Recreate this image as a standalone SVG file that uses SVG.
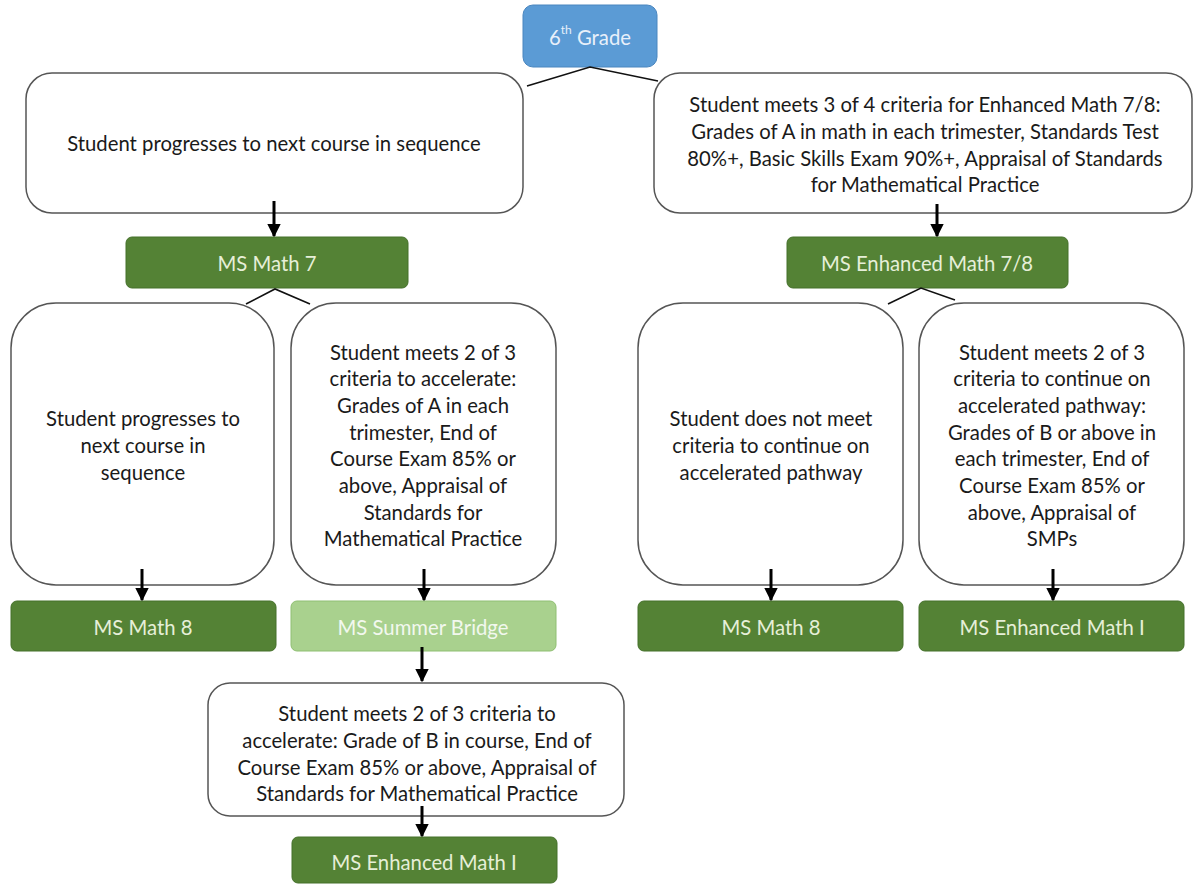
<svg xmlns="http://www.w3.org/2000/svg" width="1194" height="884" viewBox="0 0 1194 884">
<style>
text{font-family:Lato,"Liberation Sans",sans-serif;font-size:20.3px;text-anchor:middle;dominant-baseline:central}
.box{fill:#fff;stroke:#555;stroke-width:1.5}
.green{fill:#548235;stroke:#44702a;stroke-width:1}
.light{fill:#a9d18e;stroke:#8fbf72;stroke-width:1}
.gt{fill:#e6efd8}
.bt{fill:#1a1a1a}
.link{stroke:#111;stroke-width:1.6;fill:none}
.arr{stroke:#000;stroke-width:3;fill:none;marker-end:url(#ah)}
</style>
<defs>
<marker id="ah" viewBox="0 0 10 10" refX="9" refY="5" markerWidth="4.6" markerHeight="4.8" orient="auto" markerUnits="strokeWidth">
<path d="M0,0 L10,5 L0,10 z" fill="#000"/>
</marker>
</defs>
<rect width="1194" height="884" fill="#fff"/>
<g id="n-6th">
<rect x="523" y="5" width="134" height="62" rx="10" fill="#5b9bd5" stroke="#4a86bf" stroke-width="1"/>
<text x="590" y="37" fill="#e8f0fa">6<tspan font-size="12" dy="-8">th</tspan><tspan dy="8"> Grade</tspan></text>
</g>
<g id="n-progress-top">
<rect class="box" x="26" y="73" width="497" height="140" rx="26"/>
<text class="bt" x="274" y="143">Student progresses to next course in sequence</text>
</g>
<g id="n-criteria-top">
<rect class="box" x="654" y="73" width="538" height="140" rx="26"/>
<text class="bt" x="925" y="104">Student meets 3 of 4 criteria for Enhanced Math 7/8:</text>
<text class="bt" x="925" y="131">Grades of A in math in each trimester, Standards Test</text>
<text class="bt" x="925" y="158">80%+, Basic Skills Exam 90%+, Appraisal of Standards</text>
<text class="bt" x="925" y="184">for Mathematical Practice</text>
</g>
<g id="n-math7">
<rect class="green" x="126" y="237" width="282" height="51" rx="6"/>
<text class="gt" x="267" y="263">MS Math 7</text>
</g>
<g id="n-enh78">
<rect class="green" x="787" y="237" width="281" height="51" rx="6"/>
<text class="gt" x="927" y="263">MS Enhanced Math 7/8</text>
</g>
<g id="n-progress-mid">
<rect class="box" x="11" y="303" width="263" height="282" rx="45"/>
<text class="bt" x="143" y="418">Student progresses to</text>
<text class="bt" x="143" y="445">next course in</text>
<text class="bt" x="143" y="472">sequence</text>
</g>
<g id="n-accel">
<rect class="box" x="291" y="303" width="265" height="282" rx="45"/>
<text class="bt" x="423" y="352">Student meets 2 of 3</text>
<text class="bt" x="423" y="378">criteria to accelerate:</text>
<text class="bt" x="423" y="405">Grades of A in each</text>
<text class="bt" x="423" y="432">trimester, End of</text>
<text class="bt" x="423" y="458">Course Exam 85% or</text>
<text class="bt" x="423" y="485">above, Appraisal of</text>
<text class="bt" x="423" y="512">Standards for</text>
<text class="bt" x="423" y="538">Mathematical Practice</text>
</g>
<g id="n-notmeet">
<rect class="box" x="638" y="303" width="265" height="282" rx="45"/>
<text class="bt" x="771" y="418">Student does not meet</text>
<text class="bt" x="771" y="445">criteria to continue on</text>
<text class="bt" x="771" y="472">accelerated pathway</text>
</g>
<g id="n-continue">
<rect class="box" x="919" y="303" width="265" height="282" rx="45"/>
<text class="bt" x="1052" y="352">Student meets 2 of 3</text>
<text class="bt" x="1052" y="378">criteria to continue on</text>
<text class="bt" x="1052" y="405">accelerated pathway:</text>
<text class="bt" x="1052" y="432">Grades of B or above in</text>
<text class="bt" x="1052" y="458">each trimester, End of</text>
<text class="bt" x="1052" y="485">Course Exam 85% or</text>
<text class="bt" x="1052" y="512">above, Appraisal of</text>
<text class="bt" x="1052" y="538">SMPs</text>
</g>
<g id="n-math8-left">
<rect class="green" x="11" y="601" width="265" height="50" rx="6"/>
<text class="gt" x="143" y="627">MS Math 8</text>
</g>
<g id="n-bridge">
<rect class="light" x="291" y="601" width="265" height="50" rx="6"/>
<text x="423" y="627" fill="#f2f8ee">MS Summer Bridge</text>
</g>
<g id="n-math8-right">
<rect class="green" x="638" y="601" width="265" height="50" rx="6"/>
<text class="gt" x="771" y="627">MS Math 8</text>
</g>
<g id="n-enh1-right">
<rect class="green" x="919" y="601" width="265" height="50" rx="6"/>
<text class="gt" x="1052" y="627">MS Enhanced Math I</text>
</g>
<g id="n-accel-bridge">
<rect class="box" x="208" y="683" width="416" height="133" rx="22"/>
<text class="bt" x="417" y="713">Student meets 2 of 3 criteria to</text>
<text class="bt" x="417" y="740">accelerate: Grade of B in course, End of</text>
<text class="bt" x="417" y="767">Course Exam 85% or above, Appraisal of</text>
<text class="bt" x="417" y="793">Standards for Mathematical Practice</text>
</g>
<g id="n-enh1-bottom">
<rect class="green" x="292" y="837" width="265" height="46" rx="6"/>
<text class="gt" x="424" y="862">MS Enhanced Math I</text>
</g>
<g id="connectors">
<polyline class="link" points="527,86 590,67 658,81"/>
<polyline class="link" points="246,304 275,289 310,304"/>
<polyline class="link" points="888,304 921,288 955,300"/>
<line class="arr" x1="274" y1="201" x2="274" y2="236"/>
<line class="arr" x1="937" y1="204" x2="937" y2="236"/>
<line class="arr" x1="142" y1="569" x2="142" y2="600"/>
<line class="arr" x1="424" y1="569" x2="424" y2="600"/>
<line class="arr" x1="771" y1="569" x2="771" y2="600"/>
<line class="arr" x1="1053" y1="569" x2="1053" y2="600"/>
<line class="arr" x1="422" y1="647" x2="422" y2="681"/>
<line class="arr" x1="422" y1="806" x2="422" y2="836"/>
</g>
</svg>
